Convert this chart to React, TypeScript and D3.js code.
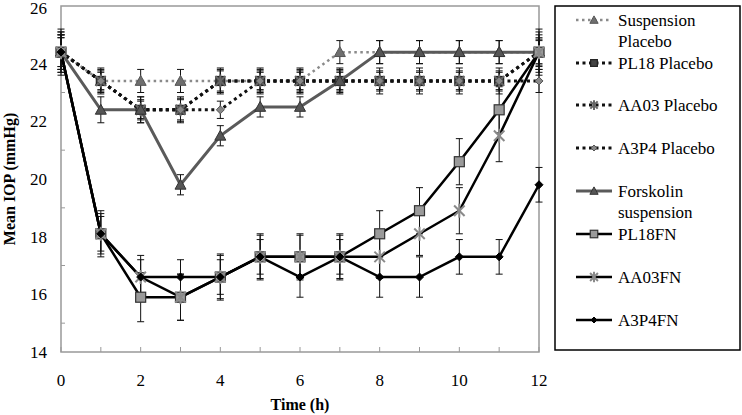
import React from "react";
import * as d3 from "d3";

const times = [0, 1, 2, 3, 4, 5, 6, 7, 8, 9, 10, 11, 12];
const yTicks = [14, 16, 18, 20, 22, 24, 26];
const xTicks = [0, 2, 4, 6, 8, 10, 12];

const suspPlacebo = [24.4, 23.4, 23.4, 23.4, 23.4, 23.4, 23.4, 24.4, 24.4, 24.4, 24.4, 24.4, 24.4];
const suspPlaceboErr = [0.6, 0.4, 0.4, 0.4, 0.4, 0.4, 0.4, 0.4, 0.4, 0.4, 0.4, 0.4, 0.5];
const pl18Placebo = [24.4, 23.4, 22.4, 22.4, 23.4, 23.4, 23.4, 23.4, 23.4, 23.4, 23.4, 23.4, 24.4];
const pl18PlaceboErr = [0.5, 0.45, 0.45, 0.45, 0.45, 0.45, 0.45, 0.45, 0.45, 0.45, 0.45, 0.45, 0.6];
const aa03Placebo = [24.4, 23.4, 22.4, 22.4, 23.4, 23.4, 23.4, 23.4, 23.4, 23.4, 23.4, 23.4, 24.4];
const aa03PlaceboErr = [0.7, 0.35, 0.35, 0.35, 0.35, 0.35, 0.35, 0.35, 0.35, 0.35, 0.35, 0.35, 0.45];
const a3p4Placebo = [24.4, 23.4, 22.4, 22.4, 22.4, 23.4, 23.4, 23.4, 23.4, 23.4, 23.4, 23.4, 23.4];
const a3p4PlaceboErr = [0.6, 0.3, 0.3, 0.4, 0.3, 0.3, 0.3, 0.3, 0.3, 0.3, 0.3, 0.3, 0.4];
const forskolin = [24.4, 22.4, 22.4, 19.8, 21.5, 22.5, 22.5, 23.4, 24.4, 24.4, 24.4, 24.4, 24.4];
const forskolinErr = [0.5, 0.45, 0.45, 0.35, 0.35, 0.35, 0.35, 0.4, 0.4, 0.4, 0.4, 0.4, 0.4];
const pl18FN = [24.4, 18.1, 15.9, 15.9, 16.6, 17.3, 17.3, 17.3, 18.1, 18.9, 20.6, 22.4, 24.4];
const pl18FNErr = [0.8, 0.8, 0.85, 0.8, 0.8, 0.8, 0.8, 0.8, 0.8, 0.8, 0.8, 0.8, 0.8];
const aa03FN = [24.4, 18.1, 16.6, 15.9, 16.6, 17.3, 17.3, 17.3, 17.3, 18.1, 18.9, 21.5, 24.4];
const aa03FNErr = [0.7, 0.7, 0.75, 0.8, 0.75, 0.75, 0.75, 0.75, 0.75, 0.75, 0.8, 0.9, 0.7];
const a3p4FN = [24.4, 18.1, 16.6, 16.6, 16.6, 17.3, 16.6, 17.3, 16.6, 16.6, 17.3, 17.3, 19.8];
const a3p4FNErr = [0.6, 0.6, 0.6, 0.6, 0.6, 0.6, 0.7, 0.6, 0.7, 0.7, 0.6, 0.6, 0.6];

type Marker = "triangle" | "square" | "asterisk" | "diamond";

interface Series {
  name: string[];
  values: number[];
  errors: number[];
  stroke: string;
  width: number;
  dash: string;
  marker: Marker;
  markerFill: string;
  markerStroke: string;
  markerSize: number;
}

const series: Series[] = [
  { name: ["Suspension", "Placebo"], values: suspPlacebo, errors: suspPlaceboErr, stroke: "#8a8a8a", width: 2.5, dash: "2.5,3.5", marker: "triangle", markerFill: "#6f6f6f", markerStroke: "#555", markerSize: 11 },
  { name: ["PL18 Placebo"], values: pl18Placebo, errors: pl18PlaceboErr, stroke: "#111", width: 3, dash: "3,3.5", marker: "square", markerFill: "#444", markerStroke: "#222", markerSize: 9 },
  { name: ["AA03 Placebo"], values: aa03Placebo, errors: aa03PlaceboErr, stroke: "#111", width: 3, dash: "3,3.5", marker: "asterisk", markerFill: "#666", markerStroke: "#666", markerSize: 13 },
  { name: ["A3P4 Placebo"], values: a3p4Placebo, errors: a3p4PlaceboErr, stroke: "#111", width: 3, dash: "3,3.5", marker: "diamond", markerFill: "#888", markerStroke: "#555", markerSize: 8 },
  { name: ["Forskolin", "suspension"], values: forskolin, errors: forskolinErr, stroke: "#5a5a5a", width: 3, dash: "", marker: "triangle", markerFill: "#555", markerStroke: "#333", markerSize: 11 },
  { name: ["PL18FN"], values: pl18FN, errors: pl18FNErr, stroke: "#000", width: 2.5, dash: "", marker: "square", markerFill: "#9a9a9a", markerStroke: "#333", markerSize: 10 },
  { name: ["AA03FN"], values: aa03FN, errors: aa03FNErr, stroke: "#000", width: 2.5, dash: "", marker: "asterisk", markerFill: "#888", markerStroke: "#8a8a8a", markerSize: 14 },
  { name: ["A3P4FN"], values: a3p4FN, errors: a3p4FNErr, stroke: "#000", width: 2.5, dash: "", marker: "diamond", markerFill: "#000", markerStroke: "#000", markerSize: 8 },
];

const legendY = [20, 63, 105, 148, 191, 234, 277, 320];

function MarkerShape({ m, cx, cy, fill, stroke, size }: { m: Marker; cx: number; cy: number; fill: string; stroke: string; size: number }) {
  const h = size / 2;
  if (m === "triangle") {
    return <path d={`M${cx},${cy - h} L${cx + h},${cy + h * 0.8} L${cx - h},${cy + h * 0.8} Z`} fill={fill} stroke={stroke} strokeWidth={1} />;
  }
  if (m === "square") {
    return <rect x={cx - h} y={cy - h} width={size} height={size} fill={fill} stroke={stroke} strokeWidth={1.2} />;
  }
  if (m === "diamond") {
    return <path d={`M${cx},${cy - h} L${cx + h},${cy} L${cx},${cy + h} L${cx - h},${cy} Z`} fill={fill} stroke={stroke} strokeWidth={1} />;
  }
  const a = h * 0.75;
  return (
    <g stroke={stroke} strokeWidth={2}>
      <line x1={cx - a} y1={cy - a} x2={cx + a} y2={cy + a} />
      <line x1={cx - a} y1={cy + a} x2={cx + a} y2={cy - a} />
      <line x1={cx} y1={cy - h} x2={cx} y2={cy + h} />
    </g>
  );
}

export default function App() {
  const W = 742;
  const H = 415;
  const left = 61, right = 539, top = 6, bottom = 352;
  const x = d3.scaleLinear().domain([0, 12]).range([left, right]);
  const y = d3.scaleLinear().domain([14, 26]).range([bottom, top]);
  const font = "Liberation Serif";
  const line = (vals: number[]) =>
    d3.line<number>().x((_, i) => x(times[i])).y((v) => y(v))(vals) || "";
  const cap = 3.5;

  return (
    <svg width={W} height={H} style={{ position: "absolute", left: 0, top: 0, background: "#fff" }}>
      <rect x={left} y={top} width={right - left} height={bottom - top} fill="none" stroke="#999" strokeWidth={1.5} />
      {d3.range(15, 26, 2).map((v) => (
        <line key={"ym" + v} x1={left} x2={left + 4} y1={y(v)} y2={y(v)} stroke="#999" strokeWidth={1} />
      ))}
      {times.map((t) => (
        <line key={"xt" + t} x1={x(t)} x2={x(t)} y1={bottom} y2={bottom - 5} stroke="#999" strokeWidth={1} />
      ))}
      {yTicks.map((v) => (
        <text key={"yl" + v} x={47} y={y(v) + (v === 26 ? 2 : 0)} dy="0.35em" textAnchor="end" fontSize={17} fontFamily={font}>{v}</text>
      ))}
      {xTicks.map((t) => (
        <text key={"xl" + t} x={x(t)} y={386} textAnchor="middle" fontSize={17} fontFamily={font}>{t}</text>
      ))}
      <text x={x(6)} y={410} textAnchor="middle" fontSize={16} fontWeight="bold" fontFamily={font}>Time (h)</text>
      <text transform={`translate(15,${(top + bottom) / 2}) rotate(-90)`} textAnchor="middle" fontSize={16} fontWeight="bold" fontFamily={font}>Mean IOP (mmHg)</text>

      {series.map((s, si) => (
        <g key={"e" + si} stroke="#111" strokeWidth={1}>
          {s.values.map((v, i) => {
            const cx = x(times[i]);
            const y1 = y(v + s.errors[i]);
            const y2 = y(v - s.errors[i]);
            return (
              <g key={i}>
                <line x1={cx} x2={cx} y1={y1} y2={y2} />
                <line x1={cx - cap} x2={cx + cap} y1={y1} y2={y1} />
                <line x1={cx - cap} x2={cx + cap} y1={y2} y2={y2} />
              </g>
            );
          })}
        </g>
      ))}
      {series.map((s, si) => (
        <path key={"l" + si} d={line(s.values)} fill="none" stroke={s.stroke} strokeWidth={s.width} strokeDasharray={s.dash || undefined} />
      ))}
      {series.map((s, si) => (
        <g key={"m" + si}>
          {s.values.map((v, i) => (
            <MarkerShape key={i} m={s.marker} cx={x(times[i])} cy={y(v)} fill={s.markerFill} stroke={s.markerStroke} size={s.markerSize} />
          ))}
        </g>
      ))}

      <rect x={555} y={6} width={185} height={344} fill="#fff" stroke="#000" strokeWidth={1.5} />
      {series.map((s, i) => {
        const ly = legendY[i];
        return (
          <g key={"lg" + i}>
            <line x1={576} x2={612} y1={ly} y2={ly} stroke={s.stroke} strokeWidth={s.width} strokeDasharray={s.dash || undefined} />
            <MarkerShape m={s.marker} cx={594} cy={ly} fill={s.markerFill} stroke={s.markerStroke} size={s.markerSize * 0.75} />
            {s.name.map((n, k) => (
              <text key={k} x={618} y={ly + k * 21} dy="0.35em" fontSize={17} fontFamily={font}>{n}</text>
            ))}
          </g>
        );
      })}
    </svg>
  );
}
